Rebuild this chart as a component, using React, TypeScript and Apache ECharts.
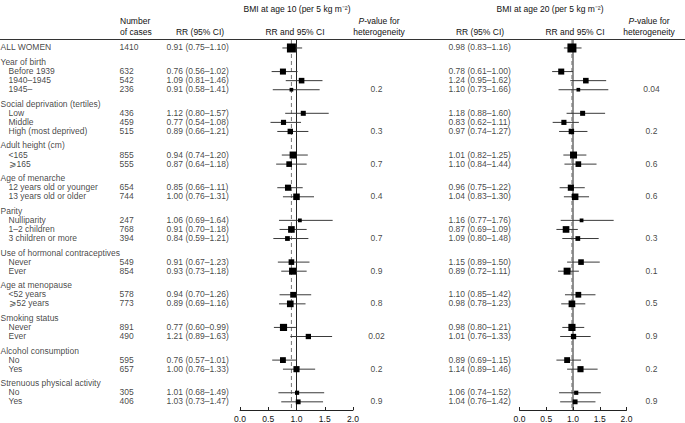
import React, { useEffect, useRef } from "react";
import * as echarts from "echarts";

// ---------- data ----------
const overallLabel = "ALL WOMEN";
const groupTitles = [
  "Year of birth",
  "Social deprivation (tertiles)",
  "Adult height (cm)",
  "Age of menarche",
  "Parity",
  "Use of hormonal contraceptives",
  "Age at menopause",
  "Smoking status",
  "Alcohol consumption",
  "Strenuous physical activity",
];
const groupItems = [
  ["Before 1939", "1940–1945", "1945–"],
  ["Low", "Middle", "High (most deprived)"],
  ["<165", "⩾165"],
  ["12 years old or younger", "13 years old or older"],
  ["Nulliparity", "1–2 children", "3 children or more"],
  ["Never", "Ever"],
  ["<52 years", "⩾52 years"],
  ["Never", "Ever"],
  ["No", "Yes"],
  ["No", "Yes"],
];
// first value = ALL WOMEN, then items in order
const cases = [1410, 632, 542, 236, 436, 459, 515, 855, 555, 654, 744, 247, 768, 394, 549, 854, 578, 773, 891, 490, 595, 657, 305, 406];
const rr10 = [0.91, 0.76, 1.09, 0.91, 1.12, 0.77, 0.89, 0.94, 0.87, 0.85, 1.0, 1.06, 0.91, 0.84, 0.91, 0.93, 0.94, 0.89, 0.77, 1.21, 0.76, 1.0, 1.01, 1.03];
const lo10 = [0.75, 0.56, 0.81, 0.58, 0.8, 0.54, 0.66, 0.74, 0.64, 0.66, 0.76, 0.69, 0.7, 0.59, 0.67, 0.73, 0.7, 0.69, 0.6, 0.89, 0.57, 0.76, 0.68, 0.73];
const hi10 = [1.1, 1.02, 1.46, 1.41, 1.57, 1.08, 1.21, 1.2, 1.18, 1.11, 1.31, 1.64, 1.18, 1.21, 1.23, 1.18, 1.26, 1.16, 0.99, 1.63, 1.01, 1.33, 1.49, 1.47];
const rr20 = [0.98, 0.78, 1.24, 1.1, 1.18, 0.83, 0.97, 1.01, 1.1, 0.96, 1.04, 1.16, 0.87, 1.09, 1.15, 0.89, 1.1, 0.98, 0.98, 1.01, 0.89, 1.14, 1.06, 1.04];
const lo20 = [0.83, 0.61, 0.95, 0.73, 0.88, 0.62, 0.74, 0.82, 0.84, 0.75, 0.83, 0.77, 0.69, 0.8, 0.89, 0.72, 0.85, 0.78, 0.8, 0.76, 0.69, 0.89, 0.74, 0.76];
const hi20 = [1.16, 1.0, 1.62, 1.66, 1.6, 1.11, 1.27, 1.25, 1.44, 1.22, 1.3, 1.76, 1.09, 1.48, 1.5, 1.11, 1.42, 1.23, 1.21, 1.33, 1.15, 1.46, 1.52, 1.42];
const p10 = ["0.2", "0.3", "0.7", "0.4", "0.7", "0.9", "0.8", "0.02", "0.2", "0.9"];
const p20 = ["0.04", "0.2", "0.6", "0.6", "0.3", "0.1", "0.5", "0.9", "0.2", "0.9"];
const axisMin = 0;
const axisMax = 2;
const axisStep = 0.5;

// ---------- layout ----------
const FONT = "'Liberation Sans', Arial, Helvetica, sans-serif";
const FS = 8.5;
const TXT = "#111";
const GAP = 1.6;
const Y_MIN = -0.88;
const Y_MAX = 39.9;
const GRID_TOP = 40;
const GRID_BOTTOM = 13;

type Row = { label: string; x: number; pos: number; di?: number };

function buildRows() {
  const rows: Row[] = [];
  const pRows: { pos: number; g: number }[] = [];
  let pos = 0;
  rows.push({ label: overallLabel, x: 1, pos, di: 0 });
  let di = 1;
  groupTitles.forEach((t, g) => {
    pos += GAP;
    rows.push({ label: t, x: 1, pos });
    groupItems[g].forEach((it, k) => {
      pos += 1;
      rows.push({ label: it, x: 9, pos, di: di++ });
      if (k === groupItems[g].length - 1) pRows.push({ pos, g });
    });
  });
  return { rows, pRows };
}

const fmtCI = (r: number, l: number, h: number) =>
  `${r.toFixed(2)} (${l.toFixed(2)}–${h.toFixed(2)})`;

function textSeries(data: any[], align: string) {
  return {
    type: "scatter",
    xAxisIndex: 2,
    yAxisIndex: 2,
    silent: true,
    symbolSize: 1,
    itemStyle: { color: "rgba(0,0,0,0)" },
    data,
    label: {
      show: true,
      position: [0, 0],
      align,
      verticalAlign: "middle",
      formatter: (p: any) => p.data[2],
      fontSize: FS,
      fontFamily: FONT,
      color: TXT,
    },
    z: 5,
  };
}

function forestSeries(idx: number, rr: number[], lo: number[], hi: number[], rows: Row[]) {
  const data = rows
    .filter((r) => r.di !== undefined)
    .map((r) => [rr[r.di!], r.pos, lo[r.di!], hi[r.di!], cases[r.di!]]);
  return {
    type: "custom",
    xAxisIndex: idx,
    yAxisIndex: idx,
    silent: true,
    encode: { x: [0, 2, 3], y: 1 },
    data,
    z: 4,
    renderItem: (_params: any, api: any) => {
      const y = api.value(1);
      const a = api.coord([api.value(2), y]);
      const b = api.coord([api.value(3), y]);
      const c = api.coord([api.value(0), y]);
      const s = 9 * Math.sqrt(api.value(4) / cases[0]);
      return {
        type: "group",
        children: [
          {
            type: "line",
            shape: { x1: a[0], y1: a[1], x2: b[0], y2: b[1] },
            style: { stroke: "#3a3a3a", lineWidth: 1 },
          },
          {
            type: "rect",
            shape: { x: c[0] - s / 2, y: c[1] - s / 2, width: s, height: s },
            style: { fill: "#000" },
          },
        ],
      };
    },
  };
}

function refLine(idx: number, x: number, dashed: boolean) {
  return {
    type: "line",
    xAxisIndex: idx,
    yAxisIndex: idx,
    silent: true,
    symbol: "none",
    data: [
      [x, Y_MIN],
      [x, Y_MAX],
    ],
    lineStyle: dashed
      ? { color: "#777", width: 1, type: [4, 3] }
      : { color: "#222", width: 1 },
    z: dashed ? 3 : 2,
  };
}

function xAxisDef(idx: number) {
  return {
    type: "value",
    gridIndex: idx,
    position: "bottom",
    min: axisMin,
    max: axisMax,
    interval: axisStep,
    axisLine: { show: true, onZero: false, lineStyle: { color: "#222", width: 1 } },
    axisTick: { show: true, inside: true, length: 3, lineStyle: { color: "#222" } },
    splitLine: { show: false },
    axisLabel: {
      fontSize: FS,
      fontFamily: FONT,
      color: TXT,
      margin: 4,
      formatter: (v: number) => v.toFixed(1),
    },
  };
}

function yAxisDef(idx: number) {
  return {
    type: "value",
    gridIndex: idx,
    inverse: true,
    min: Y_MIN,
    max: Y_MAX,
    show: false,
  };
}

function headerText(text: string, x: number, y: number, align: string) {
  return {
    type: "text",
    x,
    y,
    silent: true,
    style: {
      text,
      fontSize: FS,
      fontFamily: FONT,
      fill: TXT,
      align,
      verticalAlign: "middle",
      rich: { i: { fontStyle: "italic", fontSize: FS, fontFamily: FONT, fill: TXT } },
    },
  };
}

export default function App() {
  const ref = useRef<HTMLDivElement>(null);
  useEffect(() => {
    if (!ref.current) return;
    const chart = echarts.init(ref.current, undefined, { renderer: "svg" });
    const { rows, pRows } = buildRows();
    const dRows = rows.filter((r) => r.di !== undefined);

    const labelData = rows.map((r) => [r.x, r.pos, r.label]);
    const casesData = dRows.map((r) => [120, r.pos, String(cases[r.di!])]);
    const ci10Data = dRows.map((r) => [167, r.pos, fmtCI(rr10[r.di!], lo10[r.di!], hi10[r.di!])]);
    const ci20Data = dRows.map((r) => [449, r.pos, fmtCI(rr20[r.di!], lo20[r.di!], hi20[r.di!])]);
    const p10Data = pRows.map((p) => [377, p.pos, p10[p.g]]);
    const p20Data = pRows.map((p) => [652, p.pos, p20[p.g]]);

    chart.setOption({
      animation: false,
      backgroundColor: "#fff",
      grid: [
        { left: 240, width: 113, top: GRID_TOP, bottom: GRID_BOTTOM },
        { left: 519.5, width: 107, top: GRID_TOP, bottom: GRID_BOTTOM },
        { left: 0, right: 0, top: GRID_TOP, bottom: GRID_BOTTOM },
      ],
      xAxis: [
        xAxisDef(0),
        xAxisDef(1),
        { type: "value", gridIndex: 2, min: 0, max: 685, show: false },
      ],
      yAxis: [yAxisDef(0), yAxisDef(1), yAxisDef(2)],
      series: [
        refLine(0, 1, false),
        refLine(0, rr10[0], true),
        refLine(1, 1, false),
        refLine(1, rr20[0], true),
        forestSeries(0, rr10, lo10, hi10, rows),
        forestSeries(1, rr20, lo20, hi20, rows),
        textSeries(labelData, "left"),
        textSeries(casesData, "left"),
        textSeries(ci10Data, "left"),
        textSeries(ci20Data, "left"),
        textSeries(p10Data, "center"),
        textSeries(p20Data, "center"),
      ],
      graphic: [
        {
          type: "line",
          silent: true,
          shape: { x1: 0, y1: 39.5, x2: 685, y2: 39.5 },
          style: { stroke: "#333", lineWidth: 1 },
        },
        headerText("BMI at age 10 (per 5 kg m⁻²)", 297, 9, "center"),
        headerText("BMI at age 20 (per 5 kg m⁻²)", 550, 9, "center"),
        headerText("Number", 120, 20.5, "left"),
        headerText("of cases", 120, 31.5, "left"),
        headerText("RR (95% CI)", 200, 31.5, "center"),
        headerText("RR and 95% CI", 295, 31.5, "center"),
        headerText("{i|P}-value for", 379, 20.5, "center"),
        headerText("heterogeneity", 379, 31.5, "center"),
        headerText("RR (95% CI)", 480, 31.5, "center"),
        headerText("RR and 95% CI", 575, 31.5, "center"),
        headerText("{i|P}-value for", 649, 20.5, "center"),
        headerText("heterogeneity", 649, 31.5, "center"),
      ],
    });
    return () => chart.dispose();
  }, []);
  return (
    <div
      ref={ref}
      style={{ position: "absolute", left: 0, top: 0, width: 685, height: 423 }}
    />
  );
}
